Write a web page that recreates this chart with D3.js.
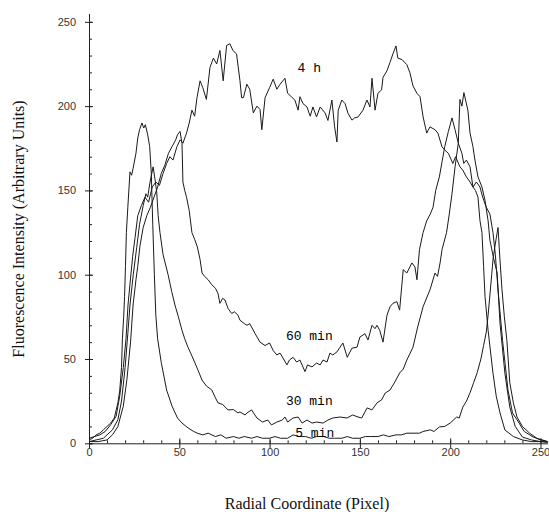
<!DOCTYPE html>
<html lang="en">
<head>
    <meta charset="UTF-8">
    <title>Fluorescence radial profiles</title>
    <script src="https://d3js.org/d3.v7.min.js"></script>
    <style>
        body { margin: 0; background: #ffffff; }
        svg { display: block; }
        .tick text { font-family: 'Liberation Sans', Arial, sans-serif; font-size: 11px; fill: #333; }
        .axis path, .axis line { stroke: #222; }
        .title { font-family: 'Liberation Serif', 'Times New Roman', serif; font-size: 16px; fill: #111; }
        .curve-label { font-family: 'Liberation Mono', 'Courier New', monospace; font-size: 13px; fill: #000; }
        .curve { fill: none; stroke: #1a1a1a; stroke-width: 1; }
    </style>
</head>
<body>
    <svg id="chart" width="549" height="512"></svg>

    <script>
        // tick values
        const xTicks = [0, 50, 100, 150, 200, 250];
        const yTicks = [0, 50, 100, 150, 200, 250];

        // radial profiles: [pixel, intensity]
        const min5 = [
            [0, 2], [2, 3], [4, 5], [6, 6], [8, 8], [10, 10], [12, 12], [14, 15], [16, 24], [17, 31],
            [18, 45], [18.5, 62], [19.2, 75], [19.7, 87], [20.2, 105], [20.7, 125], [21.5, 140], [22.7, 161],
            [23.6, 159], [24.4, 163], [26, 172], [27, 181], [28, 186], [29.3, 190], [30.3, 187], [31.2, 189],
            [32.5, 183], [33.6, 176], [34.5, 160], [35.3, 130], [36.2, 100], [37, 76], [38, 62], [40, 48],
            [43, 31.5], [46, 22], [49, 15], [51.5, 12], [55, 9], [58, 7], [60, 6], [63, 5], [66, 6], [70, 4],
            [73, 5], [76, 3], [80, 4], [83, 3], [86, 4], [90, 3], [93, 4], [96, 3], [100, 3], [103, 4],
            [106, 3], [110, 3], [113, 5], [116, 4], [120, 4], [123, 3], [126, 4], [130, 4], [133, 3],
            [136, 3], [140, 3], [143, 4], [146, 3], [150, 3], [153, 4], [156, 4], [160, 4], [163, 5],
            [166, 4], [170, 5], [173, 5], [176, 6], [180, 6], [183, 6], [185, 7], [189, 8], [191, 7],
            [194, 9.7], [197, 10], [200, 12], [203.6, 15.6], [205, 15], [207, 21.5], [209, 25], [211, 30],
            [213, 36], [215, 42], [217, 50], [218.5, 58], [220, 66], [221, 76], [222, 88], [223, 100],
            [223.7, 109], [224.8, 117], [225.4, 121], [226.5, 128], [227.5, 110], [228.7, 91], [230, 75],
            [231.4, 61], [233, 36], [235, 24], [237, 15.6], [240, 10], [244, 6], [248, 3], [251, 2], [254, 1]
        ];

        const min30 = [
            [0, 1], [4, 2], [8, 3], [10, 5], [13, 8], [16, 14], [18, 25], [20, 45], [21.5, 65], [22.7, 82],
            [24.5, 100], [26.4, 116], [28, 130], [30, 141], [31.5, 148], [32.5, 146], [33.8, 155], [35.5, 164],
            [36.5, 157], [37.5, 149], [38.3, 135], [39.3, 125], [41, 112], [43.8, 100], [45.8, 90], [47.6, 82],
            [49.5, 75], [51.5, 67], [53, 62], [54.8, 57], [56.5, 53], [58.7, 47.6], [60.5, 43], [62.6, 37.5],
            [65, 34], [68, 31.6], [70, 27], [71.4, 24], [74, 23], [77, 19.8], [80, 20], [82.5, 18], [83.6, 18.6],
            [86.4, 16.8], [87.5, 18], [90, 19.8], [93, 15], [96, 12.6], [99, 13.8], [101, 10.9], [104, 12.6],
            [107, 13.8], [108.5, 15.6], [110, 12.6], [113, 15], [115.8, 15.6], [118, 12], [120.7, 13.8],
            [123.5, 12], [126, 12.6], [129.6, 12], [132.3, 13.8], [135, 15], [139, 15.6], [142.9, 15],
            [146, 16.8], [149, 15.6], [151, 15], [154, 21], [156.7, 19.8], [159.5, 24], [162, 25.7],
            [164, 29.8], [166.7, 31.6], [169.4, 36.4], [172, 41.7], [174, 44], [176, 49.4], [179.4, 57],
            [182, 69], [185, 81], [186.5, 85], [188.8, 91], [191.6, 101], [193, 99], [194.4, 107], [195.5, 115],
            [198, 125], [199.5, 136], [201, 148], [202.7, 164], [204.5, 178], [205.4, 204], [206.5, 200],
            [207.6, 208], [209.8, 197.6], [211, 184], [212.6, 176], [213.7, 168], [215.4, 158], [217.6, 152],
            [219.3, 144], [221, 132], [222, 120.5], [224, 110], [226, 101], [227.6, 71], [230.3, 41.6],
            [233, 21.5], [236, 10], [240, 3.7], [245, 2], [250, 1], [254, 1]
        ];

        const min60 = [
            [0, 1], [5, 1], [10, 2], [13, 5], [16, 10], [19, 22], [21, 38], [23, 60], [24.4, 82], [26, 97],
            [27, 105], [28.2, 117], [30, 128], [32, 135], [34, 140], [36, 146], [38, 152], [40, 160], [42, 165],
            [44, 172], [46, 176], [48, 180], [49, 183], [50.4, 185], [51.5, 178], [52, 155], [53, 150],
            [54, 146], [55.5, 138], [57, 125], [58.5, 121], [60, 116.5], [61.5, 109], [62.6, 101], [64, 99],
            [66, 97], [68, 94], [70, 92], [71.4, 89], [72.5, 83], [74, 86], [75.3, 85], [77, 80], [79, 77],
            [80.5, 78], [82.5, 76], [83.6, 73], [86, 71], [87.5, 70], [89, 71], [92, 65], [94.7, 60],
            [97.5, 58], [100, 59.5], [102, 55], [104, 52.4], [105.8, 53.5], [107.4, 50.6], [109.6, 46.5],
            [111, 49.4], [113, 51], [115, 48.2], [116.8, 49.4], [119.6, 42.5], [121, 46.5], [123.5, 45.3],
            [126, 47.6], [128, 46.5], [129.6, 49.4], [131.8, 48.2], [133.4, 53.5], [135, 52.4], [137.3, 54.2],
            [139, 57], [140.6, 59.5], [143, 51], [145.6, 56.4], [148.4, 57], [150, 63], [152.8, 65],
            [154.5, 61.3], [156.7, 70], [158.4, 68], [159.5, 70], [161, 67], [162.8, 60], [165, 76],
            [166.7, 81], [168.3, 83], [170.5, 84], [172, 79], [174, 103], [176, 101], [178.8, 107],
            [180.5, 104.6], [181.6, 97], [183, 115], [185, 125], [187, 132], [189, 136], [190.5, 140],
            [192, 150], [194, 158], [195.5, 167], [197, 176], [199, 185], [201, 193], [202.7, 186],
            [204.5, 178], [206.5, 172], [207.5, 166], [209, 168], [211, 164], [212.6, 152], [214, 150],
            [215.4, 146], [216.5, 132], [217.6, 125], [218.5, 105], [219.3, 87], [221, 67], [223.7, 41.6],
            [225.5, 28], [227.6, 18], [230.3, 7.9], [235, 4], [240, 2], [245, 1], [250, 1], [254, 0.5]
        ];

        const h4 = [
            [0, 3], [3, 4], [6, 5], [9, 7], [12, 11], [15, 16], [17, 28], [19, 45], [20.5, 62], [21.6, 82],
            [23, 98], [24.2, 111], [25.5, 122], [27, 135], [29, 141], [31, 146], [33, 143], [35, 152],
            [37, 155], [39, 153], [41, 160], [43, 166], [44.8, 170], [46.5, 168], [48.7, 176], [50.5, 180],
            [52, 178], [54, 184], [55.5, 190], [57, 197.6], [58.5, 194], [59.8, 205], [61.5, 215], [63, 211],
            [65, 204], [67, 223], [68.9, 228.5], [70.7, 225], [72.5, 233], [74.3, 215], [76.2, 236], [78, 237],
            [79.7, 233], [81.7, 231], [83.6, 215], [84.5, 205], [85.5, 205], [87.4, 213], [89, 210], [91, 196],
            [93, 200], [94.7, 198], [95.7, 186], [97.5, 205], [100, 211], [102, 216], [104, 210], [105.8, 213],
            [108.5, 216.5], [110, 207.6], [112, 205.6], [114, 203.6], [115.8, 197.6], [116.8, 205.6],
            [118.5, 201.5], [120.7, 199.5], [122.5, 194], [124, 199.5], [126, 193.6], [128, 199.5],
            [130.7, 196], [132.3, 191.5], [134.5, 203.6], [136, 187.7], [137.3, 178.7], [138, 197.6],
            [140, 203.6], [141.8, 201.5], [143.4, 195.8], [145.6, 191.7], [147, 193], [149, 193.6],
            [151.7, 197.6], [153.9, 203.6], [155.6, 199.5], [156.7, 216.5], [158.4, 197.6], [160, 207.6],
            [162, 209.6], [162.8, 217], [165, 221], [166.7, 226], [168.3, 231], [170, 235.7], [171, 228.5],
            [173.3, 227.6], [176, 224.6], [177.7, 219.8], [179.4, 212], [181.6, 207.6], [183.3, 205.6],
            [185, 193.6], [187, 184], [188.8, 187.7], [191.6, 186], [193.2, 184], [195.5, 175.8], [197, 174],
            [199, 172], [201.5, 166], [203, 170], [205.4, 164], [207, 162], [209, 158], [211, 155],
            [212.6, 152], [214.5, 155], [216.5, 152], [218, 146], [220, 140], [222, 136], [223.7, 125],
            [225, 112], [226.5, 91], [229, 61], [232, 31.6], [234.5, 18], [237, 14], [241, 7], [246, 3.7],
            [250, 2], [254, 1]
        ];

        const curveLabels = [
            { text: '4 h', x: 122, y: 220 },
            { text: '60 min', x: 122, y: 61 },
            { text: '30 min', x: 122, y: 23 },
            { text: '5 min', x: 125, y: 4 }
        ];

        const svg = d3.select('#chart');

        const x = d3.scaleLinear().domain([0, 254]).range([89, 547.7]);
        const y = d3.scaleLinear().domain([0, 255]).range([443.3, 13.4]);

        // minor ticks every 10
        svg.append('g')
            .attr('class', 'axis')
            .attr('transform', 'translate(0,443.3)')
            .call(d3.axisBottom(x).tickValues(d3.range(0, 251, 10)).tickSize(-3).tickFormat(''))
            .call(g => g.select('.domain').remove());

        svg.append('g')
            .attr('class', 'axis')
            .attr('transform', 'translate(89,0)')
            .call(d3.axisLeft(y).tickValues(d3.range(0, 251, 10)).tickSize(-3).tickFormat(''))
            .call(g => g.select('.domain').remove());

        // major axes
        const xAxis = svg.append('g')
            .attr('class', 'axis')
            .attr('transform', 'translate(0,443.3)')
            .call(d3.axisBottom(x).tickValues(xTicks).tickSizeOuter(0));
        xAxis.selectAll('.tick line').attr('y1', -5).attr('y2', 5);
        xAxis.selectAll('.tick text').attr('y', 5).attr('dy', '0.71em');

        const yAxis = svg.append('g')
            .attr('class', 'axis')
            .attr('transform', 'translate(89,0)')
            .call(d3.axisLeft(y).tickValues(yTicks).tickSizeOuter(0));
        yAxis.selectAll('.tick line').attr('x1', -4).attr('x2', 4);
        yAxis.selectAll('.tick text').attr('x', -13);

        const line = d3.line()
            .x(d => x(d[0]))
            .y(d => y(d[1]));

        [min5, min30, min60, h4].forEach(series => {
            svg.append('path')
                .datum(series)
                .attr('class', 'curve')
                .attr('d', line);
        });

        svg.selectAll('.curve-label')
            .data(curveLabels)
            .join('text')
            .attr('class', 'curve-label')
            .attr('x', d => x(d.x))
            .attr('y', d => y(d.y))
            .attr('text-anchor', 'middle')
            .text(d => d.text);

        svg.append('text')
            .attr('class', 'title')
            .attr('transform', 'translate(24,229) rotate(-90)')
            .attr('text-anchor', 'middle')
            .text('Fluorescence Intensity (Arbitrary Units)');

        svg.append('text')
            .attr('class', 'title')
            .attr('x', 307)
            .attr('y', 509)
            .attr('text-anchor', 'middle')
            .text('Radial Coordinate (Pixel)');
    </script>
</body>
</html>
